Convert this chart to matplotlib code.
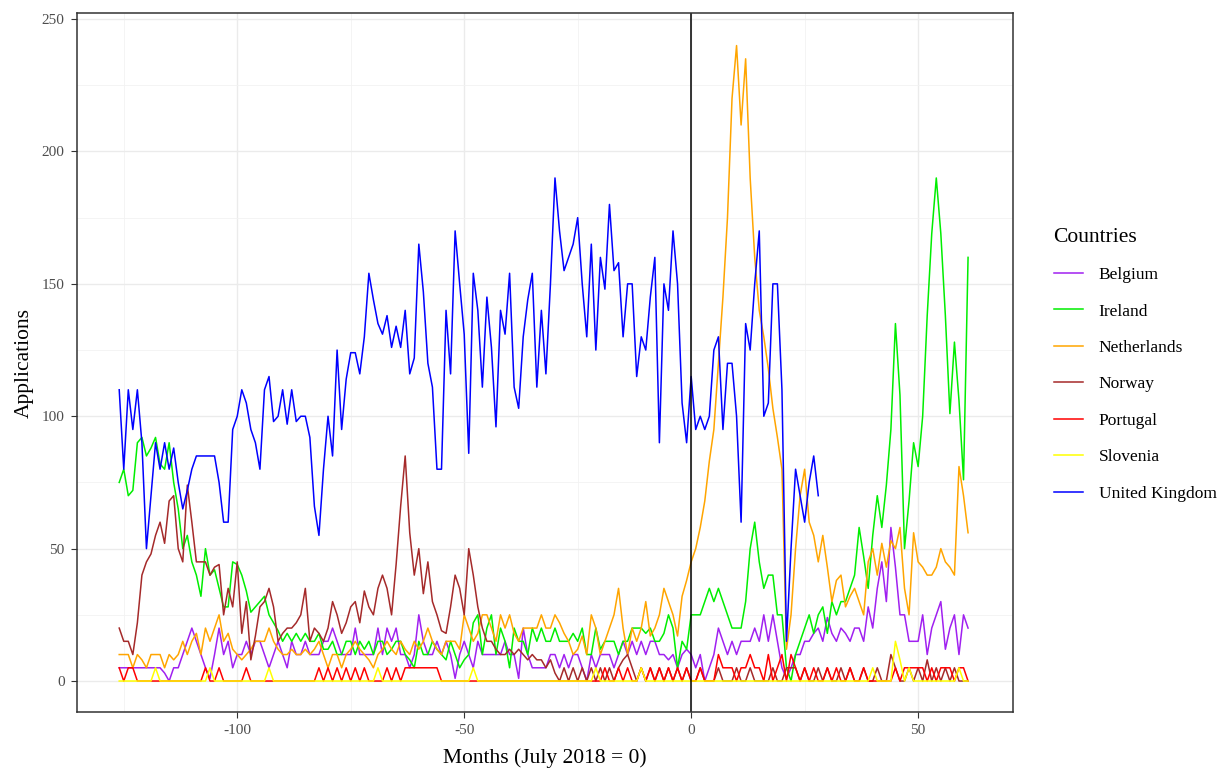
import matplotlib
matplotlib.use("Agg")
import matplotlib.pyplot as plt
from matplotlib.ticker import MultipleLocator

plt.rcParams['font.family'] = ['Liberation Serif', 'DejaVu Serif']
plt.rcParams['axes.unicode_minus'] = False

# months relative to July 2018
months = list(range(-126, 62))
uk_months = list(range(-126, 29))

belgium = [
    5, 5, 5, 5, 5, 5, 5, 5, 5, 5,
    3, 0, 5, 5, 10, 15, 20, 15, 10, 5,
    1, 10, 20, 10, 15, 5, 10, 10, 15, 10,
    15, 15, 10, 5, 10, 15, 10, 5, 15, 10,
    10, 15, 10, 10, 10, 15, 15, 20, 15, 10,
    10, 10, 20, 10, 10, 10, 10, 20, 10, 20,
    15, 20, 10, 10, 5, 10, 25, 15, 10, 10,
    15, 10, 15, 10, 1, 10, 15, 10, 5, 15,
    10, 10, 10, 10, 10, 15, 10, 10, 1, 20,
    10, 5, 5, 5, 5, 10, 10, 5, 10, 5,
    10, 10, 5, 0, 10, 5, 10, 10, 10, 5,
    10, 15, 10, 15, 10, 15, 10, 15, 15, 10,
    10, 8, 10, 5, 10, 12, 10, 5, 10, 0,
    5, 10, 20, 15, 10, 15, 10, 15, 15, 15,
    20, 15, 25, 15, 25, 15, 5, 1, 5, 10,
    10, 15, 15, 18, 20, 15, 24, 18, 15, 20,
    18, 15, 20, 20, 15, 28, 20, 35, 45, 30,
    58, 43, 25, 25, 15, 15, 15, 25, 10, 20,
    25, 30, 12, 20, 25, 10, 25, 20,
]

ireland = [
    75, 80, 70, 72, 90, 92, 85, 88, 92, 82,
    80, 90, 75, 65, 50, 55, 45, 40, 32, 50,
    40, 42, 35, 28, 28, 45, 44, 40, 34, 26,
    28, 30, 32, 25, 22, 19, 15, 18, 15, 18,
    15, 18, 15, 15, 18, 12, 12, 15, 10, 10,
    15, 15, 10, 15, 12, 15, 10, 15, 15, 10,
    12, 15, 15, 10, 8, 5, 15, 10, 10, 15,
    12, 10, 8, 15, 10, 5, 8, 10, 22, 25,
    10, 20, 25, 10, 20, 15, 5, 20, 15, 15,
    10, 20, 15, 20, 15, 15, 20, 15, 15, 15,
    18, 15, 20, 10, 10, 20, 12, 15, 15, 15,
    10, 15, 15, 20, 20, 20, 18, 20, 15, 15,
    18, 25, 20, 5, 15, 12, 25, 25, 25, 30,
    35, 30, 35, 30, 25, 20, 20, 20, 30, 50,
    60, 45, 35, 40, 40, 25, 25, 5, 0, 10,
    15, 20, 25, 18, 25, 28, 18, 30, 25, 30,
    30, 35, 40, 58, 47, 35, 55, 70, 58, 74,
    95, 135, 108, 50, 68, 90, 81, 100, 138, 169,
    190, 169, 138, 101, 128, 106, 76, 160,
]

netherlands = [
    10, 10, 10, 5, 10, 8, 5, 10, 10, 10,
    5, 10, 8, 10, 15, 10, 15, 18, 10, 20,
    15, 20, 25, 15, 18, 12, 10, 8, 10, 12,
    15, 15, 15, 20, 15, 12, 10, 10, 12, 10,
    10, 12, 10, 12, 15, 10, 5, 10, 10, 5,
    10, 12, 15, 12, 10, 8, 5, 10, 12, 15,
    12, 10, 15, 12, 10, 15, 12, 15, 20, 15,
    12, 10, 15, 15, 15, 12, 25, 20, 15, 18,
    25, 25, 20, 15, 25, 20, 25, 18, 15, 20,
    20, 20, 20, 25, 20, 20, 25, 22, 18, 15,
    10, 12, 17, 10, 25, 20, 10, 15, 20, 25,
    35, 20, 10, 20, 15, 20, 30, 17, 20, 25,
    35, 30, 25, 17, 32, 38, 45, 50, 58, 68,
    83, 95, 120, 145, 175, 220, 240, 210, 235, 190,
    160, 140, 130, 118, 103, 92, 80, 12, 25, 50,
    70, 80, 60, 55, 45, 55, 43, 30, 38, 40,
    28, 32, 35, 30, 25, 45, 50, 40, 52, 43,
    53, 50, 58, 35, 25, 56, 45, 43, 40, 40,
    43, 50, 45, 43, 40, 81, 70, 56,
]

norway = [
    20, 15, 15, 10, 22, 40, 45, 48, 55, 60,
    52, 68, 70, 50, 45, 74, 60, 45, 45, 45,
    40, 43, 44, 25, 35, 28, 45, 18, 30, 8,
    17, 28, 30, 35, 28, 15, 18, 20, 20, 22,
    25, 35, 15, 20, 18, 15, 20, 30, 25, 18,
    22, 28, 30, 22, 34, 28, 25, 35, 40, 35,
    25, 44, 66, 85, 56, 40, 50, 33, 45, 30,
    25, 19, 18, 28, 40, 35, 25, 50, 40, 28,
    20, 15, 15, 12, 10, 10, 12, 10, 12, 10,
    8, 10, 8, 8, 5, 8, 3, 0, 5, 0,
    5, 0, 5, 0, 5, 0, 5, 0, 5, 0,
    5, 8, 10, 5, 0, 5, 0, 5, 0, 5,
    0, 5, 0, 5, 0, 5, 0, 0, 5, 0,
    0, 0, 5, 0, 0, 0, 5, 0, 0, 5,
    0, 0, 0, 0, 5, 0, 0, 5, 5, 5,
    0, 5, 0, 0, 5, 0, 5, 0, 0, 5,
    0, 5, 0, 0, 5, 0, 0, 5, 0, 0,
    10, 5, 0, 0, 5, 0, 5, 0, 8, 0,
    5, 0, 5, 0, 5, 0, 0, 0,
]

portugal = [
    5, 0, 5, 5, 0, 0, 0, 0, 0, 0,
    0, 0, 0, 0, 0, 0, 0, 0, 0, 5,
    0, 0, 5, 0, 0, 0, 0, 0, 5, 0,
    0, 0, 0, 0, 0, 0, 0, 0, 0, 0,
    0, 0, 0, 0, 5, 0, 5, 0, 5, 0,
    5, 0, 5, 0, 5, 0, 0, 0, 0, 5,
    0, 5, 0, 5, 5, 5, 5, 5, 5, 5,
    5, 0, 0, 0, 0, 0, 0, 0, 0, 0,
    0, 0, 0, 0, 0, 0, 0, 0, 0, 0,
    0, 0, 0, 0, 0, 0, 0, 0, 0, 0,
    0, 0, 0, 0, 0, 0, 0, 5, 0, 0,
    5, 0, 5, 0, 0, 5, 0, 5, 0, 5,
    0, 5, 0, 5, 0, 5, 0, 0, 5, 0,
    0, 0, 10, 5, 5, 5, 0, 5, 5, 10,
    5, 5, 0, 10, 0, 5, 10, 0, 10, 5,
    0, 5, 0, 5, 0, 0, 5, 0, 5, 0,
    0, 5, 0, 0, 5, 0, 0, 0, 0, 0,
    0, 5, 0, 5, 5, 5, 5, 5, 0, 5,
    0, 5, 5, 5, 0, 5, 5, 0,
]

slovenia = [
    0, 0, 0, 0, 0, 0, 0, 0, 5, 0,
    0, 0, 0, 0, 0, 0, 0, 0, 0, 0,
    5, 0, 0, 0, 0, 0, 0, 0, 0, 0,
    0, 0, 0, 5, 0, 0, 0, 0, 0, 0,
    0, 0, 0, 0, 0, 0, 0, 0, 0, 0,
    0, 0, 0, 0, 0, 0, 0, 5, 0, 0,
    0, 0, 0, 0, 0, 0, 0, 0, 0, 0,
    0, 0, 0, 0, 0, 0, 0, 0, 5, 0,
    0, 0, 0, 0, 0, 0, 0, 0, 0, 0,
    0, 0, 0, 0, 0, 0, 0, 0, 0, 0,
    0, 0, 0, 0, 0, 5, 0, 0, 0, 0,
    0, 0, 0, 0, 0, 5, 0, 0, 0, 0,
    0, 0, 0, 0, 0, 0, 0, 0, 0, 0,
    0, 0, 0, 0, 0, 0, 0, 0, 0, 0,
    0, 0, 0, 0, 0, 0, 0, 0, 0, 0,
    0, 0, 0, 0, 0, 0, 0, 0, 0, 0,
    0, 0, 0, 0, 0, 0, 5, 0, 0, 0,
    0, 15, 8, 0, 5, 0, 0, 0, 0, 0,
    0, 0, 0, 0, 0, 5, 0, 0,
]

united_kingdom = [
    110, 80, 110, 95, 110, 90, 50, 70, 90, 80,
    90, 80, 88, 75, 65, 72, 80, 85, 85, 85,
    85, 85, 75, 60, 60, 95, 100, 110, 105, 95,
    90, 80, 110, 115, 98, 100, 110, 97, 110, 98,
    100, 100, 92, 66, 55, 80, 100, 85, 125, 95,
    114, 124, 124, 116, 130, 154, 144, 135, 131, 138,
    126, 134, 126, 140, 116, 122, 165, 147, 120, 111,
    80, 80, 140, 116, 170, 150, 131, 86, 154, 140,
    111, 145, 126, 96, 140, 131, 154, 111, 103, 130,
    144, 154, 111, 140, 116, 150, 190, 170, 155, 160,
    165, 175, 150, 130, 165, 125, 160, 148, 180, 155,
    158, 130, 150, 150, 115, 130, 125, 145, 160, 90,
    150, 140, 170, 150, 105, 90, 115, 95, 100, 95,
    100, 125, 130, 95, 120, 120, 100, 60, 135, 125,
    150, 170, 100, 105, 150, 150, 110, 15, 50, 80,
    70, 60, 75, 85, 70,
]

series = [
    ("Belgium", months, belgium, "#A020F0"),
    ("Ireland", months, ireland, "#00EE00"),
    ("Netherlands", months, netherlands, "#FFA500"),
    ("Norway", months, norway, "#A52A2A"),
    ("Portugal", months, portugal, "#FF0000"),
    ("Slovenia", months, slovenia, "#FFFF00"),
    ("United Kingdom", uk_months, united_kingdom, "#0000FF"),
]

fig = plt.figure(figsize=(12.31, 7.73), dpi=100)
ax = fig.add_axes([77 / 1231, 61 / 773, 936 / 1231, 699 / 773])

for name, xs, ys, col in series:
    ax.plot(xs, ys, color=col, lw=1.1, label=name)

ax.axvline(0, color="black", lw=1.1)

ax.set_xlim(-135.3, 70.9)
ax.set_ylim(-11.7, 252.3)
ax.xaxis.set_major_locator(MultipleLocator(50))
ax.xaxis.set_minor_locator(MultipleLocator(25))
ax.yaxis.set_major_locator(MultipleLocator(50))
ax.yaxis.set_minor_locator(MultipleLocator(25))
ax.grid(which="major", color="#EBEBEB", lw=1.0)
ax.grid(which="minor", color="#F2F2F2", lw=0.6)
ax.set_axisbelow(True)
ax.tick_params(which="major", length=4, width=0.8, color="#333333",
               labelsize=11, labelcolor="#4D4D4D", pad=5)
ax.tick_params(which="minor", length=0)
for s in ax.spines.values():
    s.set_color("#333333")
    s.set_linewidth(1.1)

ax.set_xlabel("Months (July 2018 = 0)", fontsize=15.5, labelpad=8)
ax.set_ylabel("Applications", fontsize=15.5, labelpad=6)

leg = fig.legend(loc="upper left", bbox_to_anchor=(1038 / 1231, 1 - 212 / 773),
                 frameon=False, title="Countries", fontsize=12.5,
                 title_fontsize=15.5, handlelength=1.7, handletextpad=0.9,
                 labelspacing=1.17, alignment="left")

plt.savefig("out.png", dpi=100)
